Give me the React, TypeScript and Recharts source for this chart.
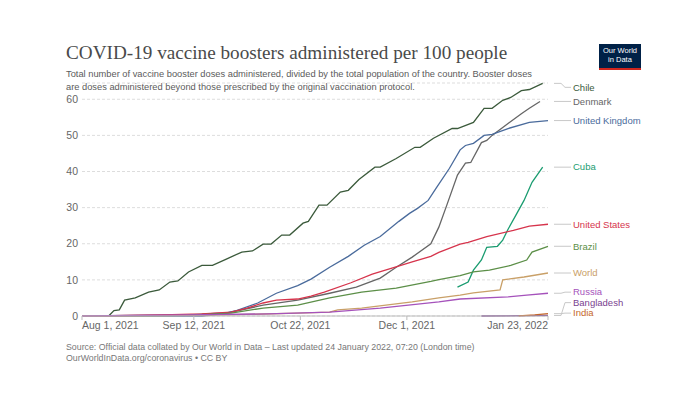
import React from "react";
import { LineChart, Line, XAxis, YAxis, CartesianGrid } from "recharts";

// days since Aug 1, 2021
const xTicks = [0, 42, 82, 122, 175];
const xTickLabels = ["Aug 1, 2021", "Sep 12, 2021", "Oct 22, 2021", "Dec 1, 2021", "Jan 23, 2022"];
const yTicks = [0, 10, 20, 30, 40, 50, 60];

const chileDays = [0, 10, 12, 14, 16, 20, 25, 29, 33, 36, 40, 45, 49, 54, 60, 64, 68, 71, 75, 78, 83, 85, 89, 92, 97, 100, 104, 110, 112, 118, 125, 127, 132, 139, 141, 147, 151, 154, 158, 161, 165, 168, 173];
const chileValues = [0, 0, 1.5, 1.7, 4.4, 5, 6.6, 7.2, 9.4, 9.7, 12.2, 14, 14, 15.7, 17.7, 18, 19.9, 19.9, 22.4, 22.4, 25.7, 26.2, 30.7, 30.7, 34.3, 34.8, 37.8, 41.2, 41.2, 43.6, 46.7, 46.7, 49.2, 51.9, 51.9, 53.6, 57.5, 57.5, 59.7, 60.5, 62.4, 62.7, 64.4];

const denmarkDays = [0, 40, 55, 68, 81, 93, 103, 112, 118, 124, 131, 134, 137, 141, 144, 146, 150, 152, 154, 160, 165, 168, 172];
const denmarkValues = [0, 0.3, 0.9, 3, 4.4, 6.3, 8, 10.5, 13.5, 16.3, 20, 24.6, 30.7, 39, 42.3, 42.5, 48, 48.6, 50, 53.3, 56, 57.5, 59.4];

const ukDays = [0, 45, 52, 58, 66, 73, 81, 86, 93, 100, 106, 112, 119, 123, 126, 130, 133, 138, 142, 144, 147, 151, 154, 160, 168, 175];
const ukValues = [0, 0, 0.5, 1.5, 3.6, 6.3, 8.4, 10.2, 13.5, 16.5, 19.6, 22, 26.2, 28.4, 29.8, 32, 35.4, 40.9, 46, 47.2, 47.8, 50, 50.3, 51.9, 53.6, 54.1];

const cubaDays = [141, 145, 147, 150, 152, 156, 158, 160, 163, 166, 169, 173];
const cubaValues = [8, 9.4, 12.7, 15.5, 19, 19.3, 21, 24, 28, 32, 37, 41.2];

const usDays = [0, 12, 30, 45, 56, 62, 68, 73, 81, 86, 91, 101, 109, 117, 124, 131, 134, 142, 145, 152, 162, 168, 175];
const usValues = [0, 0.1, 0.3, 0.6, 1.1, 2.2, 3.6, 4.4, 4.7, 5.5, 6.6, 9.2, 11.6, 13.4, 15, 16.5, 17.6, 19.9, 20.4, 22, 23.7, 24.9, 25.4];

const brazilDays = [0, 40, 56, 68, 81, 93, 105, 118, 131, 134, 142, 147, 153, 161, 167, 169, 175];
const brazilValues = [0, 0.2, 0.8, 2.2, 3, 5, 6.6, 7.7, 9.6, 10.1, 11.2, 12.2, 12.7, 14, 15.5, 17.7, 19.3];

const worldDays = [0, 30, 55, 81, 93, 96, 105, 124, 134, 142, 147, 157, 158, 166, 175];
const worldValues = [0, 0.1, 0.3, 0.8, 1.1, 1.7, 2.2, 3.9, 5, 5.8, 6.4, 7.2, 10, 10.8, 11.9];

const russiaDays = [0, 40, 70, 93, 112, 134, 142, 160, 167, 175];
const russiaValues = [0, 0.3, 0.6, 1.1, 2.2, 3.9, 4.7, 5.3, 5.8, 6.3];

const bangladeshDays = [150, 160, 175];
const bangladeshValues = [0, 0.05, 0.15];

const indiaDays = [164, 170, 175];
const indiaValues = [0.05, 0.3, 0.65];

const series = [
  { name: "Chile", color: "#3b5a3b", days: chileDays, values: chileValues },
  { name: "Denmark", color: "#666666", days: denmarkDays, values: denmarkValues },
  { name: "United Kingdom", color: "#4a6b9c", days: ukDays, values: ukValues },
  { name: "Cuba", color: "#1a9c70", days: cubaDays, values: cubaValues },
  { name: "United States", color: "#d6344c", days: usDays, values: usValues },
  { name: "Brazil", color: "#5c8f48", days: brazilDays, values: brazilValues },
  { name: "World", color: "#c9a068", days: worldDays, values: worldValues },
  { name: "Russia", color: "#a552bb", days: russiaDays, values: russiaValues },
  { name: "Bangladesh", color: "#7a3f8f", days: bangladeshDays, values: bangladeshValues },
  { name: "India", color: "#c4672a", days: indiaDays, values: indiaValues },
];

const W = 700;
const H = 393;
const PLOT_TOP = 83;
const PLOT_BOTTOM = 316;
const PLOT_LEFT = 82;
const PLOT_RIGHT = 548;
const Y_MAX = 64.5;
const PX_PER_UNIT = (PLOT_BOTTOM - PLOT_TOP) / Y_MAX;
const SANS = "'Liberation Sans', Arial, sans-serif";

// place end labels so they don't overlap (in value units)
function layoutLabels(): number[] {
  const gap = 2.9;
  const pos = series.map((s) => s.values[s.values.length - 1]);
  pos[0] = Math.min(pos[0], 63.3);
  for (let i = 1; i < pos.length; i++) pos[i] = Math.min(pos[i], pos[i - 1] - gap);
  const n = pos.length;
  pos[n - 1] = Math.max(pos[n - 1], 0.8);
  for (let i = n - 2; i >= 0; i--) pos[i] = Math.max(pos[i], pos[i + 1] + gap);
  return pos;
}
const labelPos = layoutLabels();

function XTick(props: any) {
  const { x, y, payload, index } = props;
  const i = xTicks.indexOf(payload.value);
  const anchor = index === 0 ? "start" : i === xTicks.length - 1 ? "end" : "middle";
  return (
    <text x={x} y={y} dy="0.71em" textAnchor={anchor} fill="#666" fontSize={10.5} fontFamily={SANS}>
      {xTickLabels[i]}
    </text>
  );
}

function endLabel(si: number) {
  const s = series[si];
  return (props: any) => {
    const { y, index } = props;
    if (index !== s.values.length - 1) return <g />;
    const yl = PLOT_BOTTOM - labelPos[si] * PX_PER_UNIT;
    return (
      <g>
        <path
          d={`M ${PLOT_RIGHT + 6} ${y} H ${PLOT_RIGHT + 13} L ${PLOT_RIGHT + 17} ${yl} H ${PLOT_RIGHT + 23}`}
          fill="none"
          stroke="#c8c8c8"
          strokeWidth={1}
        />
        <text x={PLOT_RIGHT + 25} y={yl} dy="0.35em" fill={s.color} fontSize={9.5} fontFamily={SANS}>
          {s.name}
        </text>
      </g>
    );
  };
}

export default function App() {
  return (
    <div style={{ position: "absolute", left: 0, top: 0, width: W, height: H, background: "#fff", overflow: "hidden" }}>
      <div
        style={{
          position: "absolute",
          left: 66,
          top: 42,
          fontFamily: "'Liberation Serif', 'Times New Roman', serif",
          fontSize: 19.2,
          lineHeight: "22px",
          color: "#4a4a4a",
          whiteSpace: "nowrap",
        }}
      >
        COVID-19 vaccine boosters administered per 100 people
      </div>
      <div
        style={{
          position: "absolute",
          left: 66,
          top: 67.5,
          width: 520,
          fontFamily: SANS,
          fontSize: 9.3,
          lineHeight: "13px",
          color: "#5b5b5b",
          whiteSpace: "nowrap",
        }}
      >
        Total number of vaccine booster doses administered, divided by the total population of the country. Booster doses
        <br />
        are doses administered beyond those prescribed by the original vaccination protocol.
      </div>
      <div
        style={{
          position: "absolute",
          left: 599,
          top: 44,
          width: 42,
          height: 26,
          background: "#002147",
          borderBottom: "2px solid #ce261e",
          boxSizing: "border-box",
          color: "#fff",
          fontFamily: SANS,
          fontSize: 7.5,
          lineHeight: "8.5px",
          textAlign: "center",
          paddingTop: 3,
        }}
      >
        Our World
        <br />
        in Data
      </div>

      <div style={{ position: "absolute", left: 0, top: 0 }}>
        <LineChart
          width={W}
          height={H}
          margin={{ top: PLOT_TOP, right: W - PLOT_RIGHT, bottom: H - PLOT_BOTTOM - 30, left: PLOT_LEFT - 30 }}
        >
          <CartesianGrid vertical={false} stroke="#dddddd" strokeDasharray="3 2" />
          <XAxis
            type="number"
            dataKey="d"
            domain={[0, 175]}
            ticks={xTicks}
            height={30}
            axisLine={{ stroke: "#bbbbbb" }}
            tickLine={{ stroke: "#bbbbbb" }}
            tickSize={4}
            tickMargin={2}
            tick={<XTick />}
            allowDuplicatedCategory={false}
          />
          <YAxis
            type="number"
            domain={[0, Y_MAX]}
            ticks={yTicks}
            width={30}
            axisLine={false}
            tickLine={false}
            tickSize={0}
            tickMargin={4}
            tick={{ fill: "#666", fontSize: 10.5, fontFamily: SANS }}
          />
          {series.map((s, si) => (
            <Line
              key={s.name}
              data={s.days.map((d, k) => ({ d, v: s.values[k] }))}
              dataKey="v"
              name={s.name}
              type="linear"
              stroke={s.color}
              strokeWidth={1.3}
              dot={false}
              isAnimationActive={false}
              label={endLabel(si)}
            />
          ))}
        </LineChart>
      </div>

      <div
        style={{
          position: "absolute",
          left: 66,
          top: 341.5,
          fontFamily: SANS,
          fontSize: 8.8,
          lineHeight: "11px",
          color: "#777",
          whiteSpace: "nowrap",
        }}
      >
        Source: Official data collated by Our World in Data – Last updated 24 January 2022, 07:20 (London time)
        <br />
        OurWorldInData.org/coronavirus • CC BY
      </div>
    </div>
  );
}
